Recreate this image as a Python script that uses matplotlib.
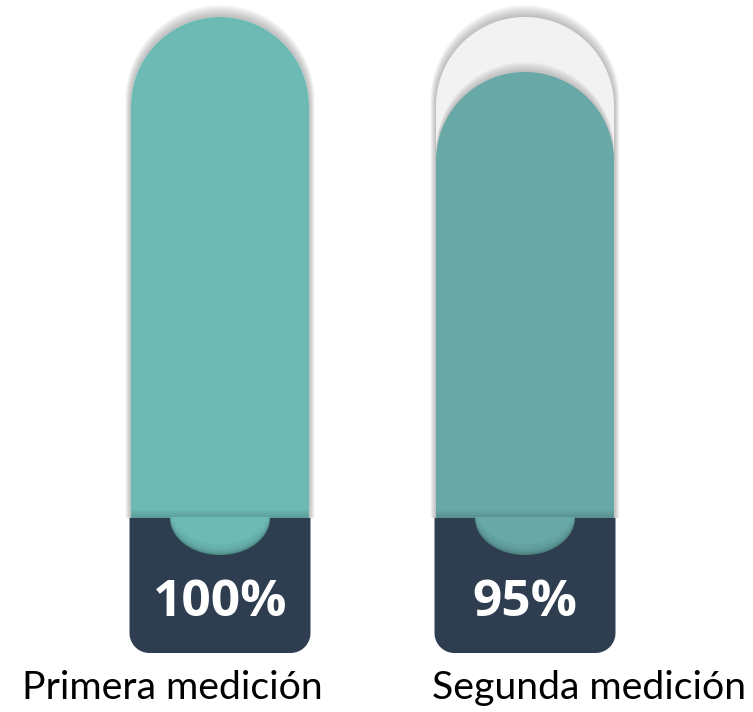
import numpy as np
import matplotlib.pyplot as plt
from matplotlib.patches import Polygon

# measurement values (percent)
labels = ["Primera medición", "Segunda medición"]
values = [100, 95]
track_max = 100
fill_colors = ["#6dbab5", "#68a8a7"]
notch_shade = ["#4f8c87", "#4d807f"]
base_color = "#2e3e50"
track_color = "#f2f2f2"

W, H = 753, 712
K = 11.0            # pixels per value unit
TOP_PX = 17         # pixel row of value 100
floor = 100 - (518 - TOP_PX) / K      # value where the fill meets the base
base_bottom = 100 - (653 - TOP_PX) / K
centers = [220 / K, 525 / K]
half_w = 89 / K


def capsule(cx, hw, y0, y1, n=90):
    # rectangle with a semicircular top
    t = np.linspace(0, np.pi, n)
    ytop = y1 - hw
    xs = np.concatenate([[cx + hw], cx + hw * np.cos(t), [cx - hw]])
    ys = np.concatenate([[y0], ytop + hw * np.sin(t), [y0]])
    return np.column_stack([xs, ys])


def base_shape(cx, hw, y0, y1, r, n=20):
    # rectangle with rounded bottom corners only
    t = np.linspace(0, np.pi / 2, n)
    right = np.column_stack([cx + hw - r + r * np.sin(t), y0 + r - r * np.cos(t)])[::-1]
    left = np.column_stack([cx - hw + r - r * np.sin(t), y0 + r - r * np.cos(t)])
    return np.array([[cx - hw, y1], [cx + hw, y1]] + right.tolist() + left.tolist())


def notch(cx, y, nw, nd, dy=0.0):
    t = np.linspace(np.pi, 2 * np.pi, 60)
    xs = np.concatenate([[cx - nw], cx + nw * np.cos(t), [cx + nw]])
    ys = np.concatenate([[y + 1 / K + dy], y + nd * np.sin(t) + dy, [y + 1 / K + dy]])
    return np.column_stack([xs, ys])


fig = plt.figure(figsize=(W / 100, H / 100), dpi=100)
ax = fig.add_axes([0, 0, 1, 1])
ax.set_xlim(0, W / K)
ax.set_ylim(100 - (H - TOP_PX) / K, 100 + TOP_PX / K)
ax.axis("off")

for cx, v, col, shade in zip(centers, values, fill_colors, notch_shade):
    # soft drop shadow around the outer capsule
    for s in range(12, 0, -1):
        e = s / K
        ax.add_patch(Polygon(capsule(cx, half_w + e * 0.45, floor, track_max + e),
                             closed=True, fc="#707070", ec="none", alpha=0.045, zorder=1))
    ax.add_patch(Polygon(capsule(cx, half_w, floor, track_max),
                         closed=True, fc=track_color, ec="none", zorder=2))
    if v < track_max:
        for s in range(10, 0, -1):
            e = s / K
            ax.add_patch(Polygon(capsule(cx, half_w, floor, v + e),
                                 closed=True, fc="#808080", ec="none", alpha=0.05, zorder=3))
    ax.add_patch(Polygon(capsule(cx, half_w, floor, v),
                         closed=True, fc=col, ec="none", zorder=4))

    # darker band just above the base
    for s in range(8):
        ax.fill_between([cx - half_w, cx + half_w], floor, floor + (8 - s) / K,
                        color="#2f5552", alpha=0.035, lw=0, zorder=5)

    # dark base with rounded bottom corners
    hw_b = half_w + 1.5 / K
    ax.add_patch(Polygon(base_shape(cx, hw_b, base_bottom, floor, 20 / K),
                         closed=True, fc=base_color, ec="none", zorder=6))

    # rounded notch of fill colour dipping into the base, shaded at the bottom
    nw, nd = 50 / K, 37 / K
    clip = Polygon(notch(cx, floor, nw, nd), closed=True, fc=shade, ec="none", zorder=7)
    ax.add_patch(clip)
    for s in range(8, 0, -1):
        p = Polygon(notch(cx, floor, nw, nd, dy=s * 1.3 / K), closed=True,
                    fc=col, ec="none", alpha=0.28, zorder=8)
        ax.add_patch(p)
        p.set_clip_path(clip)
    p = Polygon(notch(cx, floor, nw, nd, dy=11 / K), closed=True, fc=col, ec="none", zorder=8)
    ax.add_patch(p)
    p.set_clip_path(clip)

    ax.text(cx, 100 - (603 - TOP_PX) / K, f"{v}%", ha="center", va="center",
            color="white", fontsize=37, fontweight="bold", family="Open Sans", zorder=9)

label_x = [22 / K, 432 / K]
for x, lab in zip(label_x, labels):
    ax.text(x, 100 - (688 - TOP_PX) / K, lab, ha="left", va="center",
            fontsize=28.3, family="Lato", color="black")

fig.savefig("out.png", dpi=100)
